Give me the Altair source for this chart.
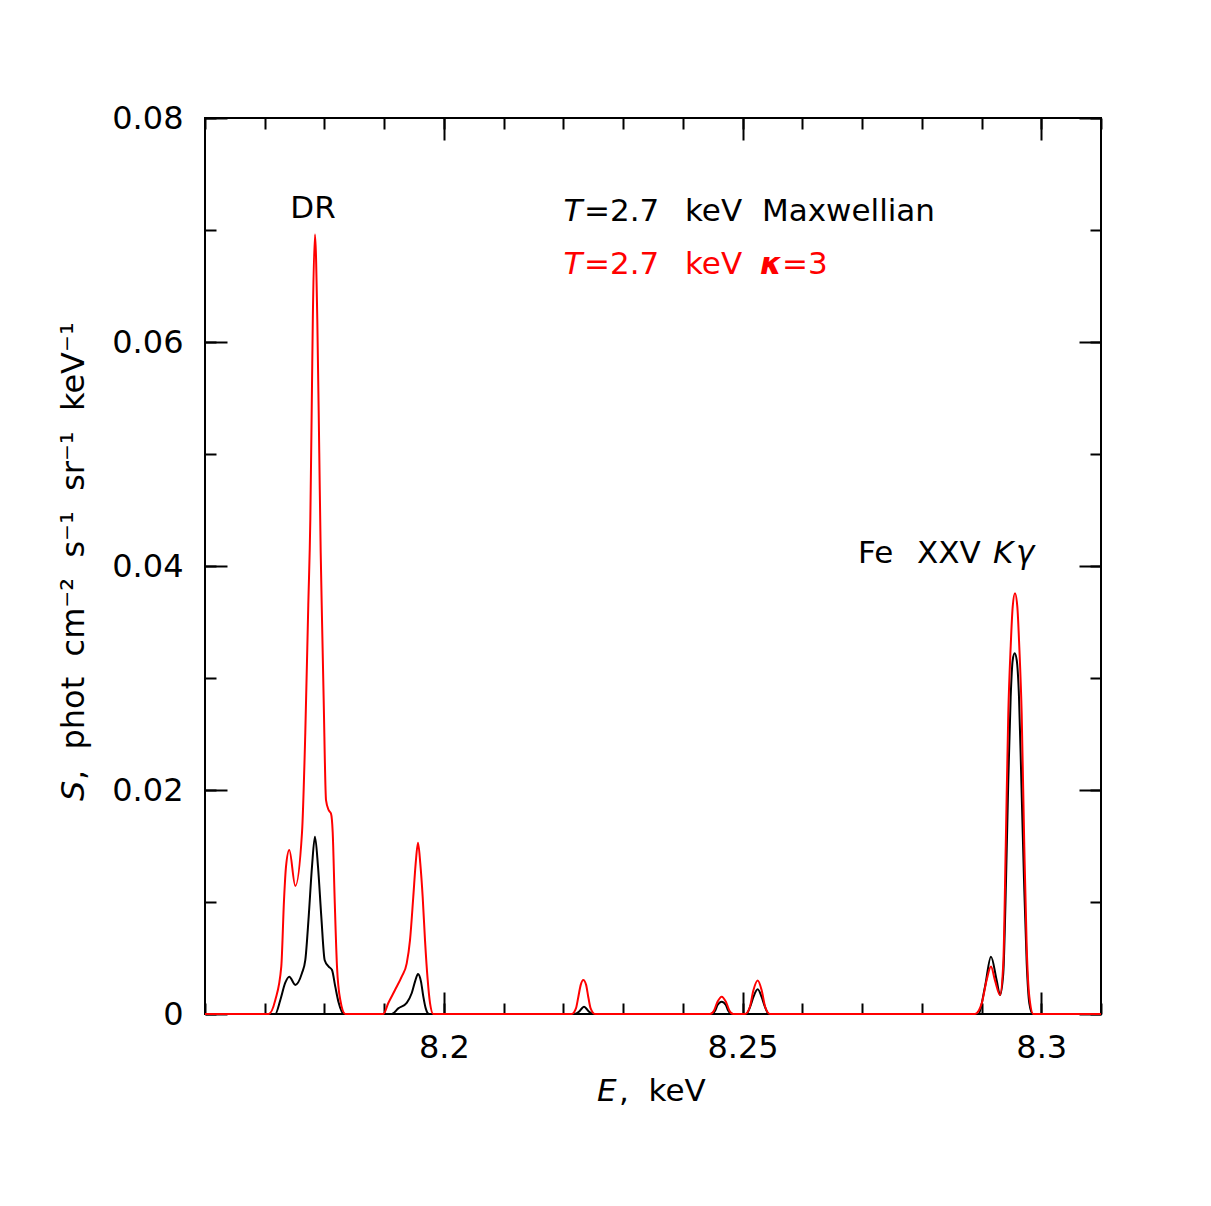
import altair as alt
import pandas as pd

# ---------------- data ----------------
# Maxwellian (black) spectrum: energy (keV) and intensity
max_E = [8.1600,
         8.17177, 8.17261, 8.17344, 8.17411, 8.17512, 8.17624, 8.17679, 8.17736,
         8.17791, 8.17841, 8.17892, 8.17947, 8.18004, 8.18071, 8.18126, 8.18181,
         8.18238, 8.18322,
         8.19126, 8.19236, 8.19377, 8.19460, 8.19516, 8.19566, 8.19616, 8.19655,
         8.19695, 8.19750,
         8.22177, 8.22260, 8.22300, 8.22345, 8.22390, 8.22430, 8.22512,
         8.24470, 8.24540, 8.24580, 8.24650, 8.24720, 8.24760, 8.24830,
         8.25060, 8.25130, 8.25180, 8.25253, 8.25320, 8.25370, 8.25440,
         8.28946, 8.29058, 8.29158, 8.29254, 8.29309, 8.29364, 8.29410, 8.29448,
         8.29488, 8.29522, 8.29555, 8.29589, 8.29627, 8.29666, 8.29711, 8.29756,
         8.29800, 8.29857,
         8.3100]
max_S = [0.0,
         0.0, 0.00125, 0.0028, 0.00333, 0.0026, 0.00366, 0.0048, 0.0087,
         0.01315, 0.01583, 0.01315, 0.0087, 0.0048, 0.00423, 0.00393, 0.00244,
         0.0010, 0.0,
         0.0, 0.0005, 0.0010, 0.00185, 0.00289, 0.00357, 0.00289, 0.00155,
         0.0005, 0.0,
         0.0, 0.0002, 0.00045, 0.00065, 0.00045, 0.0002, 0.0,
         0.0, 0.0003, 0.0008, 0.0011, 0.0008, 0.0003, 0.0,
         0.0, 0.0007, 0.0015, 0.0022, 0.0015, 0.0007, 0.0,
         0.0, 0.00244, 0.00512, 0.0030, 0.0017, 0.00363, 0.01196, 0.0209,
         0.02833, 0.0316, 0.0322, 0.0316, 0.02833, 0.0209, 0.01196, 0.00455,
         0.00095, 0.0,
         0.0]

# kappa = 3 (red) spectrum
kap_E = [8.1600,
         8.17066, 8.17177, 8.17277, 8.17323, 8.17356, 8.17411, 8.17512, 8.17624,
         8.17679, 8.17729, 8.17763, 8.17791, 8.17805, 8.17841, 8.17880, 8.17913,
         8.17937, 8.17959, 8.17987, 8.18026, 8.18071, 8.18109, 8.18138, 8.18171,
         8.18210, 8.18265, 8.18349,
         8.18985, 8.19069, 8.19181, 8.19293, 8.19377, 8.19432, 8.19487, 8.19527,
         8.19566, 8.19604, 8.19644, 8.19683, 8.19728, 8.19767, 8.19822,
         8.22139, 8.22210, 8.22249, 8.22290, 8.22333, 8.22380, 8.22417, 8.22456,
         8.22529,
         8.24454, 8.24520, 8.24580, 8.24650, 8.24720, 8.24780, 8.24844,
         8.25040, 8.25120, 8.25180, 8.25253, 8.25320, 8.25380, 8.25459,
         8.28891, 8.29003, 8.29086, 8.29158, 8.29225, 8.29309, 8.29364, 8.29405,
         8.29448, 8.29488, 8.29522, 8.29560, 8.29599, 8.29632, 8.29672, 8.29716,
         8.29756, 8.29800, 8.29867,
         8.3100]
kap_S = [0.0,
         0.0, 0.00125, 0.00423, 0.0102, 0.01315, 0.01464, 0.01143, 0.0162,
         0.0251, 0.0365, 0.0441, 0.0560, 0.0620, 0.0696, 0.0620, 0.0501,
         0.0412, 0.0352, 0.0280, 0.0191, 0.0182, 0.0179, 0.0162, 0.0102,
         0.0042, 0.00125, 0.0,
         0.0, 0.00098, 0.00214, 0.00333, 0.00452, 0.0066, 0.01047, 0.01345,
         0.0153, 0.01345, 0.01047, 0.0066, 0.00304, 0.00098, 0.0,
         0.0, 0.0005, 0.0015, 0.0026, 0.00304, 0.0026, 0.0015, 0.0005,
         0.0,
         0.0, 0.0003, 0.0011, 0.00155, 0.0011, 0.0003, 0.0,
         0.0, 0.0006, 0.0021, 0.00298, 0.0021, 0.0006, 0.0,
         0.0, 0.00095, 0.00304, 0.00423, 0.0030, 0.0017, 0.00452, 0.01494,
         0.02685, 0.0328, 0.03637, 0.03756, 0.03637, 0.0328, 0.02685, 0.01494,
         0.0060, 0.00155, 0.0,
         0.0]

# axis ticks
x_domain = [8.16, 8.31]
y_domain = [0.0, 0.08]
x_major = [8.2, 8.25, 8.3]
x_minor = [8.16, 8.17, 8.18, 8.19, 8.2, 8.21, 8.22, 8.23, 8.24, 8.25,
           8.26, 8.27, 8.28, 8.29, 8.3, 8.31]
y_major = [0.0, 0.02, 0.04, 0.06, 0.08]
y_minor = [0.0, 0.01, 0.02, 0.03, 0.04, 0.05, 0.06, 0.07, 0.08]

# annotation pieces (text, energy, intensity, colour, style)
ann_text = ["DR",
            "T", "=2.7", "keV", "Maxwellian",
            "T", "=2.7", "keV", "κ", "=3",
            "Fe", "XXV", "K", "γ"]
ann_E = [8.17808,
         8.2200, 8.22345, 8.24036, 8.25325,
         8.2200, 8.22345, 8.24036, 8.25291, 8.2566,
         8.26932, 8.2792, 8.29192, 8.29577]
ann_S = [0.0711,
         0.0708, 0.0708, 0.0708, 0.0708,
         0.0661, 0.0661, 0.0661, 0.0661, 0.0661,
         0.0403, 0.0403, 0.0403, 0.0403]
ann_color = ["black",
             "black", "black", "black", "black",
             "red", "red", "red", "red", "red",
             "black", "black", "black", "black"]
ann_style = ["center",
             "italic", "normal", "normal", "normal",
             "italic", "normal", "normal", "bolditalic", "normal",
             "normal", "normal", "italic", "italic"]

# ---------------- chart ----------------
W = 896
H = 896
FONT = "DejaVu Sans"
NB = "\u00a0"

df_max = pd.DataFrame({"E": max_E, "S": max_S})
df_kap = pd.DataFrame({"E": kap_E, "S": kap_S})
df_ann = pd.DataFrame({"E": ann_E, "S": ann_S, "t": ann_text,
                       "c": ann_color, "st": ann_style})

xs = alt.Scale(domain=x_domain, nice=False, zero=False)
ys = alt.Scale(domain=y_domain, nice=False, zero=False)

black = alt.Chart(df_max).mark_line(
    color="black", strokeWidth=2, interpolate="monotone"
).encode(
    x=alt.X("E:Q", scale=xs, axis=alt.Axis(
        orient="bottom", values=x_major, format="~g", ticks=False, tickSize=0,
        domain=False, grid=False, labelPadding=18, title=None,
        labelFontSize=32, labelFont=FONT, labelColor="black")),
    y=alt.Y("S:Q", scale=ys, axis=alt.Axis(
        orient="left", values=y_major, format="~g", ticks=False, tickSize=0,
        domain=False, grid=False, labelPadding=22, title=None,
        labelFontSize=32, labelFont=FONT, labelColor="black")),
)

red = alt.Chart(df_kap).mark_line(
    color="#ff0000", strokeWidth=2, interpolate="monotone"
).encode(
    x=alt.X("E:Q", scale=xs, axis=None),
    y=alt.Y("S:Q", scale=ys, axis=None),
)


def tick_layer(xorient, yorient, xvals, yvals, size):
    return alt.Chart(df_max).mark_point(opacity=0).encode(
        x=alt.X("E:Q", scale=xs, axis=alt.Axis(
            orient=xorient, offset=-H, values=xvals, labels=False,
            domain=False, grid=False, title=None, tickSize=size,
            tickWidth=2, tickColor="black")),
        y=alt.Y("S:Q", scale=ys, axis=alt.Axis(
            orient=yorient, offset=-W, values=yvals, labels=False,
            domain=False, grid=False, title=None, tickSize=size,
            tickWidth=2, tickColor="black")),
    )


ticks = [
    tick_layer("top", "right", x_major, y_major, 22),
    tick_layer("top", "right", x_minor, y_minor, 11),
    tick_layer("bottom", "left", x_major, y_major, 22),
    tick_layer("bottom", "left", x_minor, y_minor, 11),
]


def ann_layer(style, **kw):
    return alt.Chart(df_ann).transform_filter(
        alt.datum.st == style
    ).mark_text(font=FONT, fontSize=31, baseline="alphabetic", **kw).encode(
        x=alt.X("E:Q", scale=xs, axis=None),
        y=alt.Y("S:Q", scale=ys, axis=None),
        text="t:N",
        color=alt.Color("c:N", scale=None),
    )


anns = [
    ann_layer("center", align="center"),
    ann_layer("normal", align="left"),
    ann_layer("italic", align="left", fontStyle="italic"),
    ann_layer("bolditalic", align="left", fontStyle="italic", fontWeight="bold"),
]

title_src = pd.DataFrame({"k": [0]})


def title_piece(txt, x, y, angle=0, italic=False, size=31):
    kw = {"fontStyle": "italic"} if italic else {}
    return alt.Chart(title_src).mark_text(
        text=txt, font=FONT, fontSize=size, align="left", baseline="alphabetic",
        color="black", angle=angle, **kw
    ).encode(x=alt.value(x), y=alt.value(y))


gap = NB + " "
titles = [
    title_piece("E", 392, 983, italic=True),
    title_piece("," + NB + NB + "keV", 414, 983),
    title_piece("S", -121, 683, angle=270, italic=True, size=32),
    title_piece("," + gap + "phot" + gap + "cm⁻²" + gap + "s⁻¹" + gap
                + "sr⁻¹" + gap + "keV⁻¹", -121, 662, angle=270, size=32),
]

chart = alt.layer(
    black, red, *ticks, *anns, *titles
).resolve_axis(
    x="independent", y="independent"
).properties(
    width=W, height=H,
    padding={"left": 197, "top": 110, "right": 100, "bottom": 180},
    autosize=alt.AutoSizeParams(type="none"),
    background="white",
).configure_view(
    stroke="black", strokeWidth=2
)

chart.save("out.html", embed_options={"renderer": "svg", "actions": False})
